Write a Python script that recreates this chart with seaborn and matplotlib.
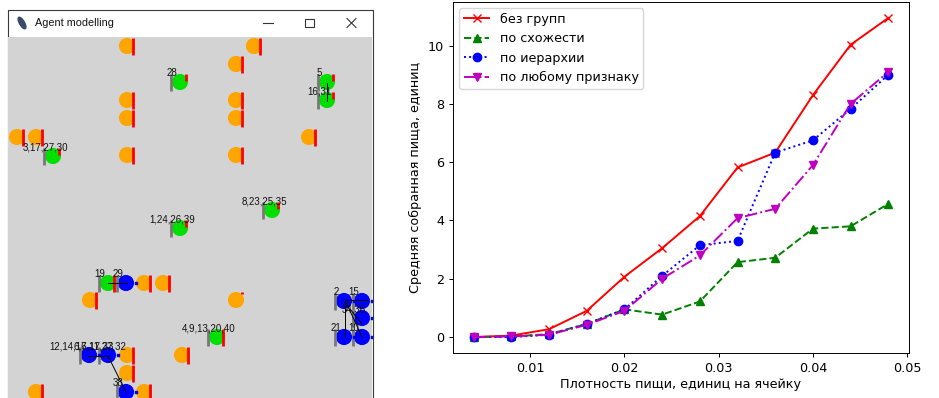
import numpy as np
import pandas as pd
import seaborn as sns
import matplotlib.pyplot as plt
from matplotlib.patches import Rectangle, Ellipse

# chart data
density = [0.004, 0.008, 0.012, 0.016, 0.020, 0.024, 0.028, 0.032, 0.036, 0.040, 0.044, 0.048]
no_groups = [0.0, 0.05, 0.27, 0.90, 2.07, 3.05, 4.15, 5.82, 6.33, 8.30, 10.03, 10.95]
similarity = [0.0, 0.02, 0.10, 0.45, 0.95, 0.77, 1.22, 2.57, 2.72, 3.72, 3.80, 4.57]
hierarchy = [0.0, 0.0, 0.08, 0.45, 0.95, 2.10, 3.15, 3.30, 6.33, 6.75, 7.83, 9.00]
any_trait = [0.0, 0.02, 0.08, 0.42, 0.90, 2.00, 2.80, 4.08, 4.40, 5.90, 8.00, 9.10]
series_names = ["без групп", "по схожести", "по иерархии", "по любому признаку"]
series_colors = ["r", "g", "b", "m"]
series_markers = ["x", "^", "o", "v"]
series_styles = ["-", "--", ":", "-."]

# model window snapshot (screen pixels)
food_x = [127, 254, 236, 127, 127, 236, 236, 17, 36, 309, 127, 236,
          144, 163, 90, 236, 127, 182, 127, 36, 144]
food_y = [46, 46, 64, 100, 118, 100, 118, 137, 137, 137, 155, 155,
          283, 283, 300, 300, 355, 355, 373, 392, 392]
food_left = [1, 1, 1, 1, 1, 1, 1, 1, 1, 1, 1, 1,
             1, 1, 1, 0.12, 1, 1, 1, 1, 1]

green_x = [180, 327, 327, 53, 272, 180, 108, 217]
green_y = [82, 82, 100, 156, 210, 228, 283, 337]
green_labels = ["28", "5", "16,31", "3,17,27,30", "8,23,25,35", "1,24,26,39", "19", "4,9,13,20,40"]
green_charge = [0.45, 0.45, 0.45, 0.45, 0.45, 0.45, 1.0, 1.0]

blue_x = [126, 89, 108, 126, 344, 362, 362, 344, 362]
blue_y = [283, 355, 355, 392, 301, 301, 318, 337, 337]
blue_labels = ["29", "12,14,16,17,33", "6,7,11,27,32", "38", "2", "15", "34,36", "21", "10"]

links = [(108, 283, 127, 283), (327, 83, 327, 101), (88, 356, 108, 356),
         (108, 356, 126, 392), (345, 300, 368, 300), (345, 300, 345, 337),
         (345, 300, 362, 337), (350, 309, 362, 324)]

fig = plt.figure(figsize=(9.39, 3.98), dpi=100)

# window chrome
ax_win = fig.add_axes([0, 0, 380 / 939, 1])
ax_win.set_xlim(0, 380)
ax_win.set_ylim(398, 0)
ax_win.axis("off")
ax_win.plot([7.5, 7.5, 372.5, 372.5], [398, 9.5, 9.5, 398], color="#3a3a3a", lw=0.8)
ax_win.add_patch(Ellipse((22, 23), 5, 13, angle=-30, color="#3b4a6b"))
ax_win.text(35, 23.5, "Agent modelling", fontsize=7.8, family="Liberation Sans",
            va="center", ha="left", color="#111111")
ax_win.plot([263, 273], [23, 23], color="#333333", lw=0.8)
ax_win.add_patch(Rectangle((305, 18.5), 8.5, 8.5, fill=False, ec="#333333", lw=0.8))
ax_win.plot([347, 356], [18.5, 27.5], color="#333333", lw=0.8)
ax_win.plot([347, 356], [27.5, 18.5], color="#333333", lw=0.8)

# canvas
ax_c = fig.add_axes([8 / 939, 0, 364 / 939, 361 / 398])
ax_c.set_xlim(8, 372)
ax_c.set_ylim(398, 37)
ax_c.set_facecolor("#d3d3d3")
ax_c.set_xticks([])
ax_c.set_yticks([])
for s in ax_c.spines.values():
    s.set_visible(False)

circle_s = 135
sns.scatterplot(x=food_x, y=food_y, s=circle_s, color="orange", edgecolor="none",
                ax=ax_c, zorder=2, legend=False)
fx = np.array(food_x)
fy = np.array(food_y)
fl = np.array(food_left)
ax_c.vlines(fx + 6, fy - 8.5, fy - 8.5 + 17 * fl, color="red", lw=2.0, zorder=3)

sns.scatterplot(x=green_x, y=green_y, s=circle_s, color="#00e000", edgecolor="none",
                ax=ax_c, zorder=2, legend=False)
gx = np.array(green_x)
gy = np.array(green_y)
gc = np.array(green_charge)
ax_c.vlines(gx + 6, gy - 8.5, gy - 8.5 + 17 * gc, color="red", lw=2.0, zorder=3)
ax_c.vlines(gx - 9, gy - 8.5, gy + 9, color="#777777", lw=2.0, zorder=3)

sns.scatterplot(x=blue_x, y=blue_y, s=circle_s, color="#0000ff", edgecolor="none",
                ax=ax_c, zorder=2, legend=False)
bx = np.array(blue_x)
by = np.array(blue_y)
ax_c.vlines(bx - 9, by - 8.5, by + 9, color="#777777", lw=2.0, zorder=3)
ax_c.scatter(bx + 10, by, s=2, color="#0000ff", marker="s", zorder=3)

for x0, y0, x1, y1 in links:
    ax_c.plot([x0, x1], [y0, y1], color="black", lw=0.7, zorder=4)

for x, y, t in zip(green_x + blue_x, green_y + blue_y, green_labels + blue_labels):
    ax_c.text(x - 8, y - 9, t, fontsize=7, family="Liberation Sans", ha="center",
              va="center", color="#111111", zorder=5, clip_on=True)

# chart
ax = fig.add_axes([453 / 939, 45 / 398, 456 / 939, 351 / 398])
for name, vals, c, m, ls in zip(series_names, [no_groups, similarity, hierarchy, any_trait],
                                series_colors, series_markers, series_styles):
    sns.lineplot(x=density, y=vals, ax=ax, color=c, marker=m, linestyle=ls,
                 lw=1.4, markersize=6, markeredgecolor=c, markeredgewidth=1.0,
                 label=name)

fs = 9.2
ax.set_xticks([0.01, 0.02, 0.03, 0.04, 0.05])
ax.set_xticklabels(["0.01", "0.02", "0.03", "0.04", "0.05"])
ax.set_yticks([0, 2, 4, 6, 8, 10])
ax.tick_params(labelsize=fs, length=3, width=0.7)
for s in ax.spines.values():
    s.set_linewidth(0.7)
ax.set_xlabel("Плотность пищи, единиц на ячейку", fontsize=fs, labelpad=2)
ax.set_ylabel("Средняя собранная пища, единиц", fontsize=fs, labelpad=4)
ax.legend(loc="upper left", fontsize=fs, handlelength=2.0, borderpad=0.35)

fig.savefig("out.png", dpi=100)
